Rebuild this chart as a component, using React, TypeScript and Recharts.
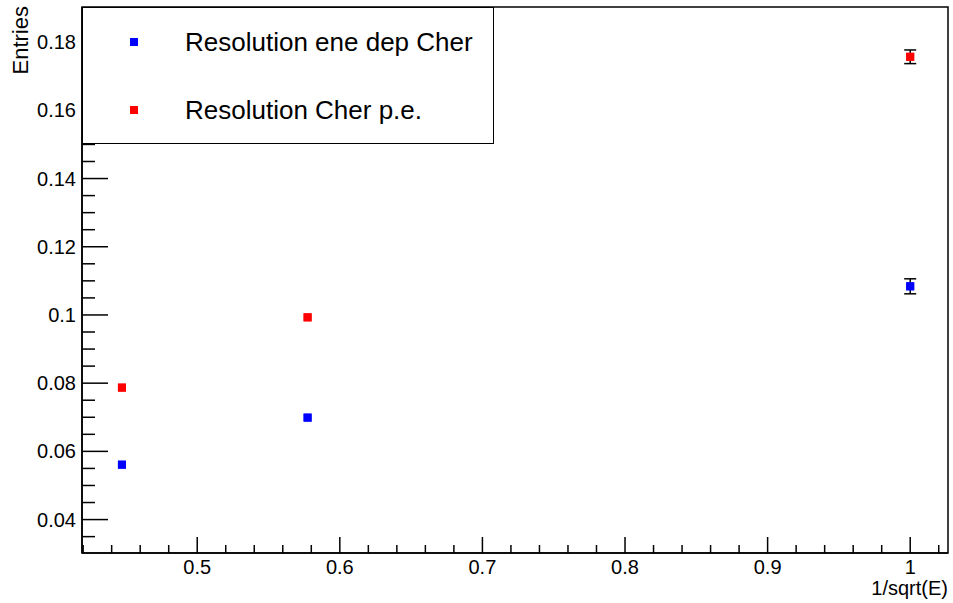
import React from "react";
import {
	ScatterChart,
	Scatter,
	XAxis,
	YAxis,
	ZAxis,
	ErrorBar,
	Legend,
	ReferenceArea,
	Label,
} from "recharts";

const FONT = "'Liberation Sans', Arial, Helvetica, sans-serif";

// 1/sqrt(E) for the three beam energies
const invSqrtE = [0.4472, 0.5774, 1.0];

// errors on the first two points are hidden under the markers in the plot
const resEneDep = [0.0561, 0.0699, 0.1084];
const resEneDepErr = [null, null, 0.0022];

const resCherPe = [0.0787, 0.0993, 0.1757];
const resCherPeErr = [null, null, 0.002];

const xMajorTicks = [0.5, 0.6, 0.7, 0.8, 0.9, 1];
const xMinorTicks = [
	0.42, 0.44, 0.46, 0.48, 0.52, 0.54, 0.56, 0.58, 0.62, 0.64, 0.66, 0.68, 0.72, 0.74, 0.76, 0.78, 0.82,
	0.84, 0.86, 0.88, 0.92, 0.94, 0.96, 0.98, 1.02,
];
const yMajorTicks = [0.04, 0.06, 0.08, 0.1, 0.12, 0.14, 0.16, 0.18];
const yMinorTicks = [
	0.035, 0.045, 0.05, 0.055, 0.065, 0.07, 0.075, 0.085, 0.09, 0.095, 0.105, 0.11, 0.115, 0.125, 0.13,
	0.135, 0.145, 0.15, 0.155, 0.165, 0.17, 0.175, 0.185, 0.19,
];

const X_DOMAIN: [number, number] = [0.4192, 1.0265];
const Y_DOMAIN: [number, number] = [0.0302, 0.1903];

const eneDepData = invSqrtE.map((x, i) => ({ x, y: resEneDep[i], err: resEneDepErr[i] }));
const cherPeData = invSqrtE.map((x, i) => ({ x, y: resCherPe[i], err: resCherPeErr[i] }));

const legendItems = [
	{ name: "Resolution ene dep Cher", color: "#0000ff" },
	{ name: "Resolution Cher p.e.", color: "#ff0000" },
];

const isMajor = (v: number, majors: number[]) => majors.some((m) => Math.abs(m - v) < 1e-6);

// eslint-disable-next-line @typescript-eslint/no-explicit-any
const XTick = ({ x, y, payload }: any) => {
	const major = isMajor(payload.value, xMajorTicks);
	return (
		<g>
			<line x1={x} x2={x} y1={y} y2={y - (major ? 16 : 8)} stroke="#000" strokeWidth={1.5} />
			{major && (
				<text x={x} y={y + 21} textAnchor="middle" fontSize={20} fontFamily={FONT} fill="#000">
					{String(payload.value)}
				</text>
			)}
		</g>
	);
};

// eslint-disable-next-line @typescript-eslint/no-explicit-any
const YTick = ({ x, y, payload }: any) => {
	const major = isMajor(payload.value, yMajorTicks);
	return (
		<g>
			<line x1={x} x2={x + (major ? 26 : 13)} y1={y} y2={y} stroke="#000" strokeWidth={1.5} />
			{major && (
				<text x={x - 6} y={y + 7} textAnchor="end" fontSize={20} fontFamily={FONT} fill="#000">
					{String(payload.value)}
				</text>
			)}
		</g>
	);
};

const LegendBox = () => (
	<div
		style={{
			width: 412,
			height: 137,
			boxSizing: "border-box",
			border: "1.5px solid #000",
			background: "#fff",
			fontFamily: FONT,
			position: "relative",
		}}
	>
		{legendItems.map((item, i) => (
			<div
				key={item.name}
				style={{ position: "absolute", left: 0, top: 34 + i * 68 - 16, height: 32, display: "flex", alignItems: "center" }}
			>
				<span
					style={{ display: "inline-block", width: 8, height: 8, background: item.color, marginLeft: 47, marginRight: 47 }}
				/>
				<span style={{ fontSize: 26, color: "#000", whiteSpace: "nowrap" }}>{item.name}</span>
			</div>
		))}
	</div>
);

export default function App() {
	return (
		<div style={{ position: "absolute", left: 0, top: 0, width: 953, height: 603, background: "#fff" }}>
			<ScatterChart width={953} height={603} margin={{ top: 7, right: 5, bottom: 0, left: 0 }}>
				<XAxis
					type="number"
					dataKey="x"
					domain={X_DOMAIN}
					allowDataOverflow
					ticks={[...xMajorTicks, ...xMinorTicks]}
					interval={0}
					tickSize={0}
					tickMargin={0}
					height={50}
					tick={<XTick />}
					stroke="#000"
					strokeWidth={1.5}
				>
					<Label
						content={({ viewBox }: any) => (
							<text
								x={viewBox.x + viewBox.width}
								y={viewBox.y + 42}
								textAnchor="end"
								fontSize={20}
								fontFamily={FONT}
								fill="#000"
							>
								1/sqrt(E)
							</text>
						)}
					/>
				</XAxis>
				<YAxis
					type="number"
					dataKey="y"
					domain={Y_DOMAIN}
					allowDataOverflow
					ticks={[...yMajorTicks, ...yMinorTicks]}
					interval={0}
					tickSize={0}
					tickMargin={0}
					width={82}
					tick={<YTick />}
					stroke="#000"
					strokeWidth={1.5}
				>
					<Label
						content={({ viewBox }: any) => (
							<text
								transform={`translate(${viewBox.x + 28}, ${viewBox.y - 1}) rotate(-90)`}
								textAnchor="end"
								fontSize={22}
								fontFamily={FONT}
								fill="#000"
							>
								Entries
							</text>
						)}
					/>
				</YAxis>
				<ZAxis range={[60, 60]} />
				<ReferenceArea
					x1={X_DOMAIN[0]}
					x2={X_DOMAIN[1]}
					y1={Y_DOMAIN[0]}
					y2={Y_DOMAIN[1]}
					fill="none"
					stroke="#000"
					strokeWidth={1.5}
				/>
				<Scatter name="Resolution ene dep Cher" data={eneDepData} fill="#0000ff" shape="square" isAnimationActive={false}>
					<ErrorBar dataKey="err" direction="y" width={6} stroke="#000" strokeWidth={1.5} />
				</Scatter>
				<Scatter name="Resolution Cher p.e." data={cherPeData} fill="#ff0000" shape="square" isAnimationActive={false}>
					<ErrorBar dataKey="err" direction="y" width={6} stroke="#000" strokeWidth={1.5} />
				</Scatter>
				{/* markers drawn again so they sit on top of the error bars, like ROOT does */}
				<Scatter data={eneDepData} fill="#0000ff" shape="square" legendType="none" isAnimationActive={false} />
				<Scatter data={cherPeData} fill="#ff0000" shape="square" legendType="none" isAnimationActive={false} />
				<Legend
					layout="vertical"
					align="center"
					verticalAlign="middle"
					content={<LegendBox />}
					wrapperStyle={{ left: 82, top: 7, width: 412, height: 137 }}
				/>
			</ScatterChart>
		</div>
	);
}
